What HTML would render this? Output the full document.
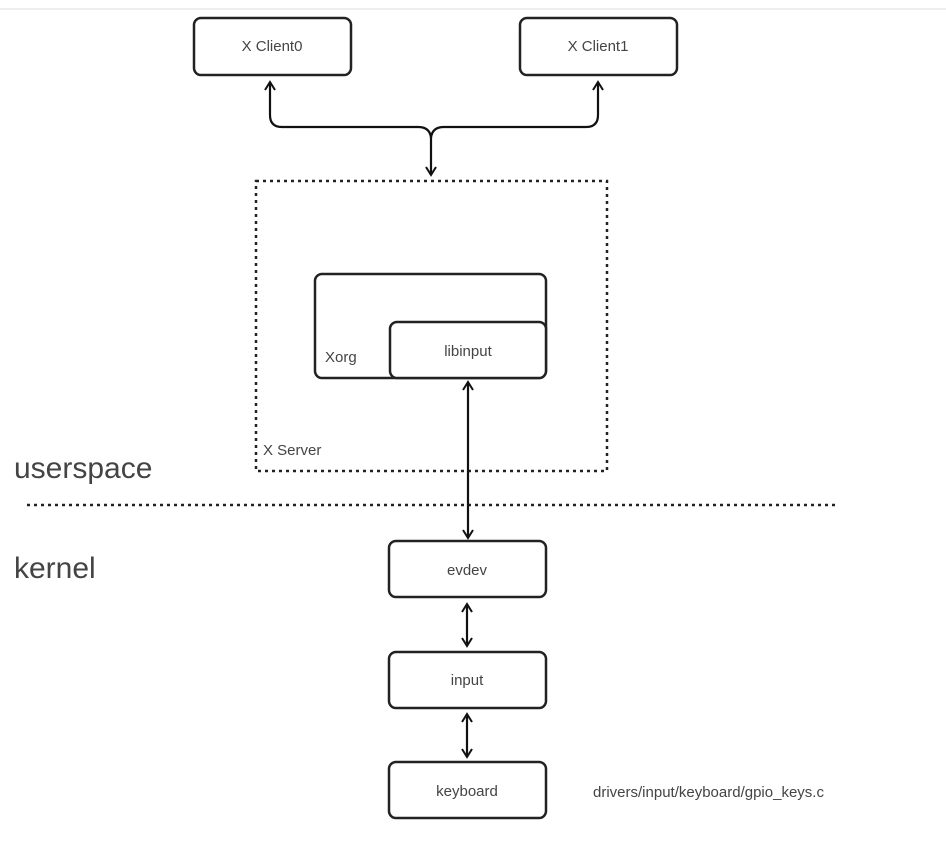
<!DOCTYPE html>
<html><head><meta charset="utf-8"><style>
html,body{margin:0;padding:0;background:#fff;}
svg{display:block;}
text{font-family:"Liberation Sans",sans-serif;fill:#444;}
</style></head><body>
<svg width="946" height="855" viewBox="0 0 946 855" xmlns="http://www.w3.org/2000/svg">
<defs>
<marker id="a" viewBox="0 0 12 12" refX="10" refY="6" markerWidth="12" markerHeight="12" markerUnits="userSpaceOnUse" orient="auto-start-reverse">
<path d="M2,1 L10,6 L2,11" fill="none" stroke="#111" stroke-width="2"/>
</marker>
</defs>
<line x1="0" y1="9" x2="946" y2="9" stroke="#eee" stroke-width="2"/>
<g fill="#fff" stroke="#222" stroke-width="2.5">
<rect x="194" y="18" width="157" height="57" rx="7"/>
<rect x="520" y="18" width="157" height="57" rx="7"/>
<rect x="315" y="274" width="231" height="104" rx="7"/>
<rect x="390" y="322" width="156" height="56" rx="7"/>
<rect x="389" y="541" width="157" height="56" rx="7"/>
<rect x="389" y="652" width="157" height="56" rx="7"/>
<rect x="389" y="762" width="157" height="56" rx="7"/>
</g>
<rect x="256" y="181" width="351" height="290" fill="none" stroke="#222" stroke-width="2.5" stroke-dasharray="3,4"/>
<line x1="27" y1="505" x2="836" y2="505" stroke="#222" stroke-width="2.5" stroke-dasharray="3,4"/>
<g fill="none" stroke="#111" stroke-width="2.2">
<path d="M270,82 V115 Q270,127 282,127 H418 Q430,127 431,138 V175" marker-start="url(#a)" marker-end="url(#a)"/>
<path d="M598,82 V115 Q598,127 586,127 H444 Q432,127 431,138" marker-start="url(#a)"/>
<path d="M468,382 V538" marker-start="url(#a)" marker-end="url(#a)"/>
<path d="M467,604 V646" marker-start="url(#a)" marker-end="url(#a)"/>
<path d="M467,714 V757" marker-start="url(#a)" marker-end="url(#a)"/>
</g>
<g font-size="15" text-anchor="middle">
<text x="272" y="51">X Client0</text>
<text x="598" y="51">X Client1</text>
<text x="468" y="356">libinput</text>
<text x="467" y="575">evdev</text>
<text x="467" y="685">input</text>
<text x="467" y="796">keyboard</text>
</g>
<g font-size="15">
<text x="325" y="362">Xorg</text>
<text x="263" y="455">X Server</text>
<text x="593" y="797">drivers/input/keyboard/gpio_keys.c</text>
</g>
<g font-size="30">
<text x="14" y="478">userspace</text>
<text x="14" y="578">kernel</text>
</g>
</svg>
</body></html>
